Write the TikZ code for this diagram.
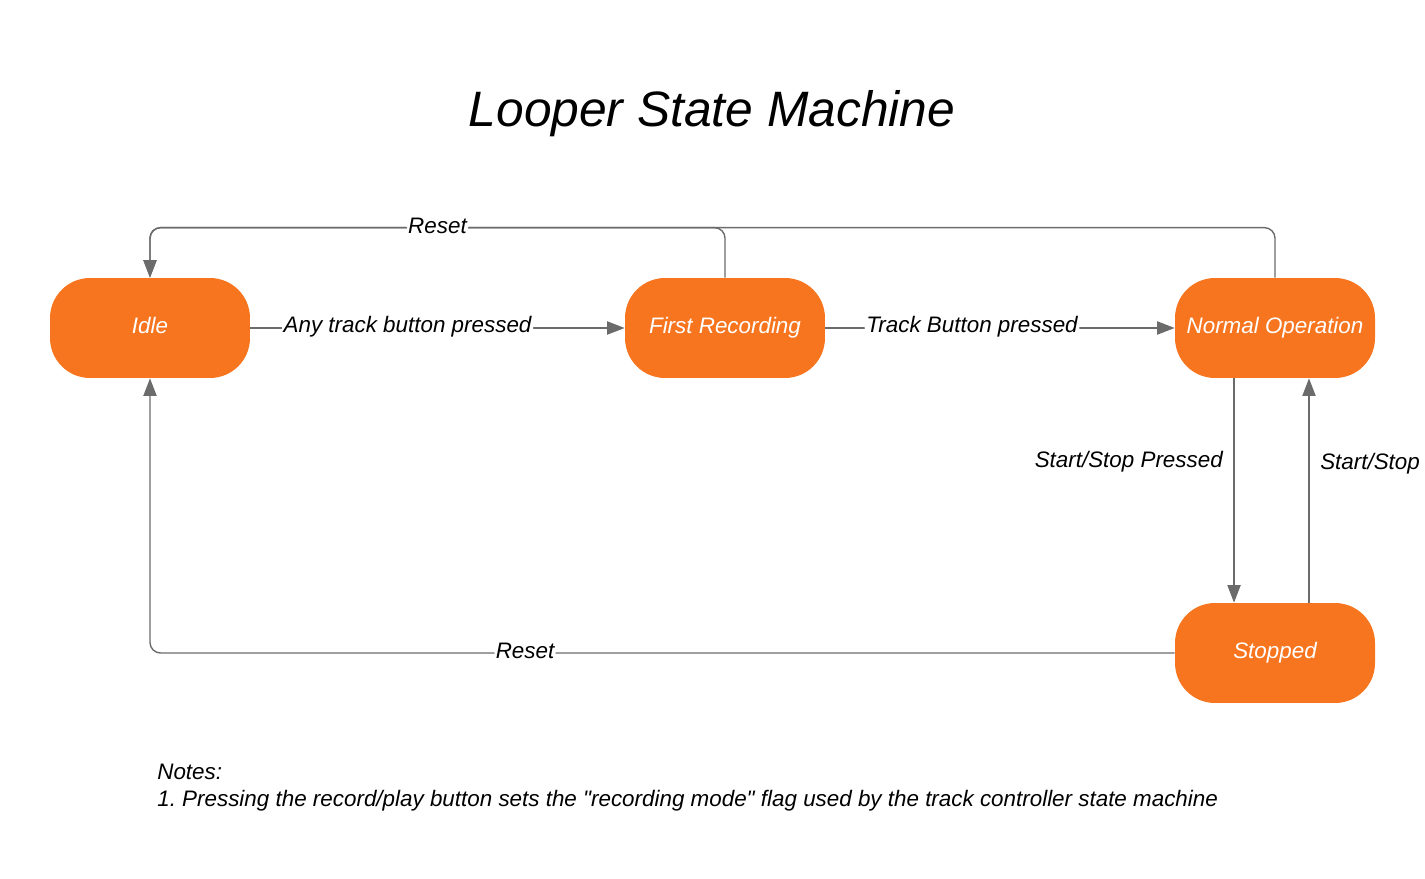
\documentclass[tikz,border=0pt]{standalone}
\usepackage{fontspec}
\setmainfont{Liberation Sans}
\usetikzlibrary{arrows.meta,positioning}

\definecolor{looperorange}{HTML}{F7751F}
\definecolor{wiregray}{HTML}{6B6B6B}

\tikzset{
    state/.style={fill=looperorange, rounded corners=0.8cm, minimum width=4cm, minimum height=2cm,
                  text=white, text height=1.6ex, text depth=0.4ex,
                  font=\fontsize{12.75}{15}\selectfont\itshape},
    wire/.style={draw=wiregray, line width=0.8pt, rounded corners=6pt},
    lbl/.style={fill=white, inner sep=1pt, font=\fontsize{12.75}{15}\selectfont\itshape},
}

\begin{document}
\begin{tikzpicture}[x=0.02cm, y=-0.02cm, >={Triangle[length=10pt,width=7.5pt]}]
                \useasboundingbox (0,0) rectangle (1425,878);

                \node[font=\fontsize{28.3}{34}\selectfont\itshape] (title) at (712,114) {Looper State Machine};

                \node[state] (idle) at (150,328) {Idle};
                \node[state] (firstrec) at (725,328) {First Recording};
                \node[state] (normalop) at (1275,328) {Normal Operation};
                \node[state] (stopped) at (1275,653) {Stopped};

                \draw[wire,->] (idle) -- node[lbl,pos=0.42,yshift=1pt] {Any track button pressed} (firstrec);
                \draw[wire,->] (firstrec) -- node[lbl,pos=0.42,yshift=1pt] {Track Button pressed} (normalop);

                \draw[wire,->] (normalop.north) -- ++(0,-50) -| (idle.north);
                \draw[wire,->] (firstrec.north) -- ++(0,-50) -| node[lbl,pos=0.25,yshift=1pt] {Reset} (idle.north);

                \draw[wire,->] ([xshift=-0.82cm]normalop.south) -- node[lbl,pos=0.37,left=5pt,fill=none] {Start/Stop Pressed} ([xshift=-0.82cm]stopped.north);
                \draw[wire,->] ([xshift=0.68cm]stopped.north) -- node[lbl,pos=0.62,right=5pt,fill=none] {Start/Stop Pressed} ([xshift=0.68cm]normalop.south);

                \draw[wire,->] (stopped.west) -| node[lbl,pos=0.317,yshift=1pt] {Reset} (idle.south);

                \node[lbl,fill=none,anchor=base west,inner sep=0pt] (notes) at (157,779) {Notes:};
                \node[lbl,fill=none,anchor=base west,inner sep=0pt] (note1) at (157,806) {1.\ Pressing the record/play button sets the \textquotedbl recording mode\textquotedbl\ flag used by the track controller state machine};
            \end{tikzpicture}
\end{document}
